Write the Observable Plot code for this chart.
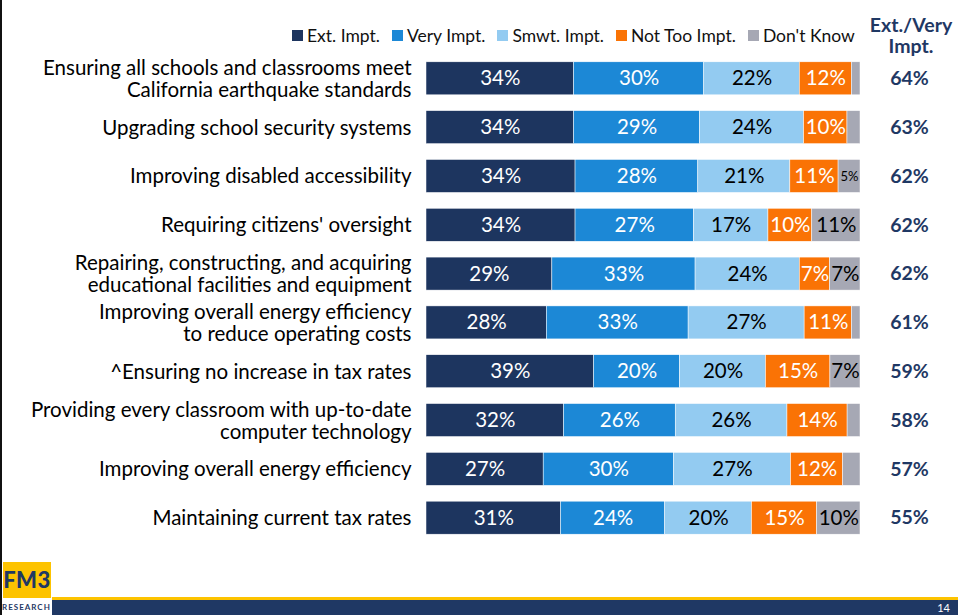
<!DOCTYPE html>
<html>
<head>
<meta charset="utf-8">
<script src="https://cdn.jsdelivr.net/npm/d3@7"></script>
<script src="https://cdn.jsdelivr.net/npm/@observablehq/plot@0.6"></script>
<style>
  html, body { margin: 0; padding: 0; background: #fff; }
  body { width: 958px; height: 615px; position: relative; overflow: hidden; font-family: Lato, "Open Sans", sans-serif; }
  #chart { position: absolute; left: 0; top: 0; }
  #legend { position: absolute; top: 25px; left: 292px; display: flex; align-items: center; font-size: 17.5px; color: #111; white-space: nowrap; }
  #legend .item { display: flex; align-items: center; margin-right: 12px; }
  #legend .sw { width: 11px; height: 11px; margin-right: 4px; }
  #hdr { position: absolute; top: 14px; left: 861px; width: 100px; text-align: center; font-weight: bold; font-size: 19.5px; line-height: 21px; color: #1f3864; }
  #lborder { position: absolute; left: 0; top: 0; width: 2px; height: 615px; background: #111; }
  #logo { position: absolute; left: 3px; top: 562px; width: 48px; height: 36px; background: #fdc300; }
  #logo span { display: block; color: #1f3864; font-weight: 900; font-size: 22px; line-height: 36px; text-align: center; font-family: Lato, sans-serif; letter-spacing: 0.5px; }
  #research { position: absolute; left: 2px; top: 601px; width: 50px; font-size: 8px; font-weight: bold; color: #1f3864; letter-spacing: 1px; font-family: Lato, sans-serif; line-height: 13px; white-space: nowrap; }
  #yline { position: absolute; left: 52px; top: 597px; width: 906px; height: 3px; background: #fdc300; }
  #nbar { position: absolute; left: 52px; top: 600px; width: 906px; height: 15px; background: #1f3864; }
  #pg { position: absolute; right: 8px; top: 0px; height: 15px; color: #fff; font-size: 11px; line-height: 15px; }
</style>
</head>
<body>
<div id="lborder"></div>
<div id="chart"></div>
<div id="legend"></div>
<div id="hdr">Ext./Very<br>Impt.</div>
<div id="logo"><span>FM3</span></div>
<div id="research">RESEARCH</div>
<div id="yline"></div>
<div id="nbar"><div id="pg">14</div></div>
<script>
const categories = [
  "Ensuring all schools and classrooms meet\nCalifornia earthquake standards",
  "Upgrading school security systems",
  "Improving disabled accessibility",
  "Requiring citizens' oversight",
  "Repairing, constructing, and acquiring\neducational facilities and equipment",
  "Improving overall energy efficiency\nto reduce operating costs",
  "^Ensuring no increase in tax rates",
  "Providing every classroom with up-to-date\ncomputer technology",
  "Improving overall energy efficiency",
  "Maintaining current tax rates"
];
const responses = ["Ext. Impt.", "Very Impt.", "Smwt. Impt.", "Not Too Impt.", "Don't Know"];
const extImpt   = [34, 34, 34, 34, 29, 28, 39, 32, 27, 31];
const veryImpt  = [30, 29, 28, 27, 33, 33, 20, 26, 30, 24];
const smwtImpt  = [22, 24, 21, 17, 24, 27, 20, 26, 27, 20];
const notTooImpt= [12, 10, 11, 10,  7, 11, 15, 14, 12, 15];
const dontKnow  = [ 2,  3,  5, 11,  7,  2,  7,  3,  4, 10];
const extVery   = [64, 63, 62, 62, 62, 61, 59, 58, 57, 55];

const colors = ["#1d355f", "#1c88d6", "#93cbf1", "#fa7305", "#a6a8b4"];
const textColors = ["white", "white", "black", "white", "black"];

const series = [extImpt, veryImpt, smwtImpt, notTooImpt, dontKnow];
const data = [];
categories.forEach((c, i) => {
  responses.forEach((r, j) => {
    data.push({cat: c, resp: r, value: series[j][i], tc: textColors[j]});
  });
});
const totals = categories.map((c, i) => ({cat: c, v: extVery[i]}));

// legend
const leg = document.getElementById("legend");
responses.forEach((r, j) => {
  const it = document.createElement("div");
  it.className = "item";
  it.innerHTML = `<div class="sw" style="background:${colors[j]}"></div><span>${r}</span>`;
  leg.appendChild(it);
});

const chart = Plot.plot({
  width: 958,
  height: 560,
  marginLeft: 426,
  marginRight: 98,
  marginTop: 46,
  marginBottom: 10,
  style: {fontFamily: "Lato, 'Open Sans', sans-serif", color: "black", background: "transparent"},
  x: {domain: [0, 1], axis: null},
  y: {domain: categories, padding: 0.324, round: false, label: null},
  color: {domain: responses, range: colors},
  marks: [
    Plot.axisY({tickSize: 0, tickPadding: 15, fontSize: 20.5, lineHeight: 1.07, tickFormat: d => d, label: null}),
    Plot.barX(data, Plot.stackX({offset: "normalize", x: "value", y: "cat", z: "resp", fill: "resp", stroke: "white", strokeWidth: 0.5})),
    Plot.text(data, Plot.stackX({
      offset: "normalize", x: "value", y: "cat", z: "resp",
      text: d => d.value >= 5 ? d.value + "%" : "",
      fill: "tc",
      fontSize: d => d.value <= 5 ? 13 : 20.5
    })),
    Plot.text(totals, {y: "cat", text: d => d.v + "%", frameAnchor: "right", textAnchor: "middle", dx: 49, fontSize: 19.5, fontWeight: "bold", fill: "#1f3864"})
  ]
});
document.getElementById("chart").appendChild(chart);
</script>
</body>
</html>
